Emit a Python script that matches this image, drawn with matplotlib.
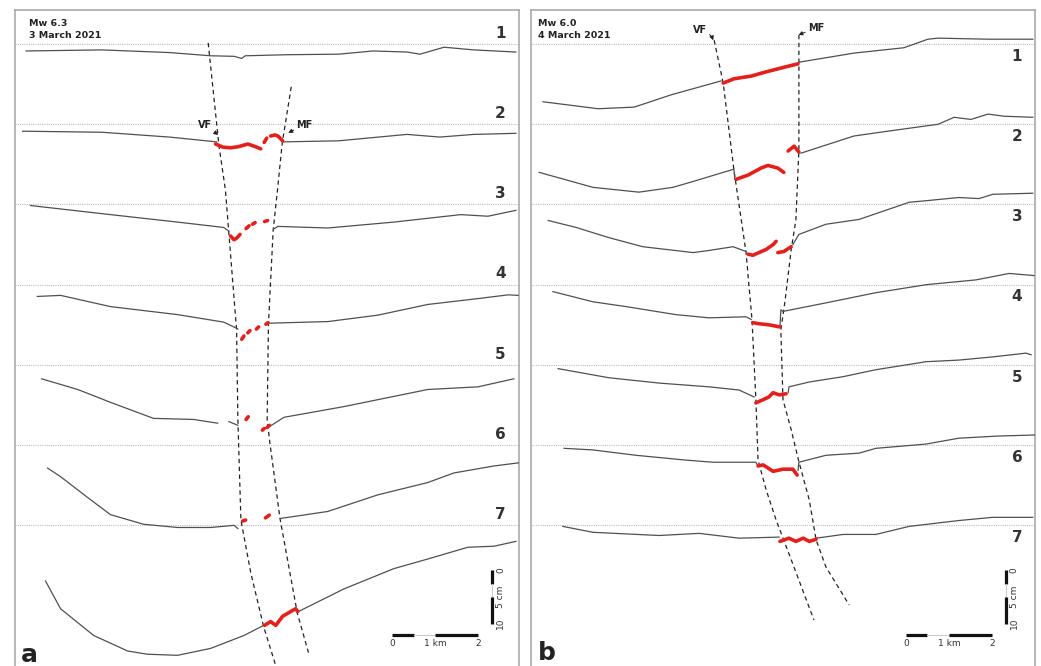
import numpy as np
import matplotlib.pyplot as plt

nan = np.nan

# profile offsets (cm) - reference lines every 15 cm
offsets = [0, -15, -30, -45, -60, -75, -90]
numbers = ["1", "2", "3", "4", "5", "6", "7"]

# ---- panel a : Mw 6.3, 3 March 2021 (x in km, y in cm relative to reference line)
a_gray_x = [
    [0.27, 2.03, 3.60, 4.56, 5.10, 5.28, 5.36, 6.35, 7.53, 8.33, 9.12, 9.42, 9.98, 10.67, 11.65],
    [0.19, 2.03, 3.60, 4.70, nan, 6.23, 7.53, 9.12, 9.88, 10.67, 11.65],
    [0.37, 2.23, 3.79, 4.86, 4.98, nan, 6.02, 6.12, 7.28, 8.81, 10.37, 11.0, 11.65],
    [0.53, 1.07, 2.23, 3.79, 4.86, 5.07, 5.19, nan, 5.91, 7.28, 8.44, 9.60, 10.77, 11.47, 11.70],
    [0.63, 1.47, 2.23, 3.23, 4.16, 4.72, nan, 4.98, 5.19, nan, 5.93, 6.26, 7.65, 9.60, 10.77, 11.60],
    [0.77, 1.07, 1.70, 2.23, 3.0, 3.79, 4.56, 5.10, 5.19, nan, 6.19, 7.28, 8.44, 9.60, 10.21, 11.14, 11.72],
    [0.72, 1.07, 1.84, 2.63, 3.09, 3.79, 4.56, 5.33, 5.79, nan, 6.60, 7.65, 8.81, 9.60, 10.53, 11.14, 11.65],
]
a_gray_y = [
    [-1.3, -1.1, -1.6, -2.2, -2.3, -2.7, -2.2, -2.0, -1.9, -1.3, -1.5, -1.9, -0.6, -1.1, -1.5],
    [-1.3, -1.5, -2.4, -3.3, nan, -3.3, -3.1, -1.9, -2.4, -1.9, -1.7],
    [-0.2, -1.9, -3.3, -4.3, -5.0, nan, -4.6, -4.1, -4.4, -3.3, -1.9, -2.2, -1.1],
    [-2.2, -2.0, -4.1, -5.6, -7.0, -7.8, -8.3, nan, -7.2, -6.9, -5.7, -3.7, -2.6, -1.9, -2.0],
    [-2.6, -4.6, -7.0, -10.0, -10.2, -10.9, nan, -10.6, -11.3, nan, -11.5, -9.8, -7.8, -4.6, -4.1, -2.6],
    [-4.3, -5.9, -9.8, -13.0, -14.8, -15.4, -15.4, -15.0, -15.6, nan, -13.7, -12.4, -9.3, -7.0, -5.2, -3.9, -3.3],
    [-10.4, -15.6, -20.6, -23.5, -24.1, -24.3, -23.0, -20.6, -18.7, nan, -16.1, -11.9, -8.1, -6.3, -4.1, -3.9, -3.0],
]
a_red_x = [
    [],
    [4.67, 4.85, 5.02, 5.20, 5.42, 5.60, 5.72, nan, 5.80, 5.86, nan, 5.95, 6.05, 6.12, 6.23],
    [5.02, 5.10, 5.16, 5.24, nan, 5.38, 5.45, nan, 5.53, 5.59, nan, 5.81, 5.88],
    [5.28, 5.33, nan, 5.42, 5.47, nan, 5.62, 5.67, nan, 5.84, 5.89],
    [5.38, 5.43, nan, 5.76, 5.80, nan, 5.87, 5.92],
    [5.30, 5.37, nan, 5.83, 5.92],
    [5.81, 5.95, 6.07, 6.23, 6.42, 6.53, 6.58],
]
a_red_y = [
    [],
    [-3.7, -4.3, -4.4, -4.2, -3.7, -4.2, -4.6, nan, -3.4, -2.6, nan, -2.2, -2.0, -2.2, -3.1],
    [-5.9, -6.6, -6.3, -5.6, nan, -4.5, -4.0, nan, -3.7, -3.4, nan, -3.2, -3.0],
    [-10.2, -9.6, nan, -9.0, -8.6, nan, -8.3, -7.9, nan, -7.4, -7.1],
    [-10.2, -9.7, nan, -12.2, -11.9, nan, -11.7, -11.3],
    [-14.2, -14.0, nan, -13.6, -13.1],
    [-18.7, -18.0, -18.7, -17.0, -16.1, -15.6, -16.1],
]
a_vf_x = [4.50, 4.75, 4.90, 5.16, 5.19, 5.26, 5.49, 5.79, 6.10]
a_vf_y = [0.2, -19.0, -27.3, -53.5, -70.3, -89.0, -98.9, -109.0, -117.0]
a_mf_x = [6.43, 6.22, 6.11, 6.01, 5.90, 5.87, 5.94, 6.17, 6.57, 6.83]
a_mf_y = [-8.0, -18.5, -27.3, -34.8, -52.3, -70.3, -75.0, -88.8, -106.4, -113.8]

# ---- panel b : Mw 6.0, 4 March 2021
b_gray_x = [
    [0.28, 1.56, 2.40, 3.26, 4.42, nan, 6.23, 7.51, 8.67, 9.23, 9.47, 10.63, 11.67],
    [0.19, 1.44, 2.51, 3.30, 3.77, 4.72, 4.74, nan, 6.28, 7.51, 8.30, 9.47, 9.84, 10.23, 10.63, 11.0, 11.67],
    [0.40, 1.05, 1.81, 2.60, 3.77, 4.14, 4.70, 5.0, nan, 6.09, 6.23, 6.86, 7.63, 8.79, 9.19, 9.95, 10.42, 10.74, 11.67],
    [0.51, 1.44, 2.21, 3.37, 4.14, 5.0, 5.12, nan, 5.79, 5.81, 5.86, 6.86, 8.02, 9.19, 10.35, 11.12, 11.70],
    [0.63, 1.81, 2.98, 4.14, 4.84, 5.19, nan, 5.98, 6.0, 6.47, 7.26, 8.02, 9.19, 9.95, 10.74, 11.51, 11.63],
    [0.77, 1.44, 2.44, 3.60, 4.23, 5.23, 5.28, nan, 6.21, 6.23, 6.86, 7.63, 8.02, 9.19, 9.95, 10.88, 11.74],
    [0.74, 1.44, 2.98, 3.91, 4.84, 5.77, nan, 6.63, 7.26, 8.02, 8.79, 9.95, 10.74, 11.67],
]
b_gray_y = [
    [-10.8, -12.1, -11.8, -9.5, -6.9, nan, -3.4, -1.7, -0.7, 0.9, 1.1, 0.9, 0.9],
    [-9.0, -11.8, -12.7, -11.8, -10.7, -8.4, -10.3, nan, -5.4, -2.2, -1.3, 0.0, 1.3, 0.9, 1.9, 1.5, 1.3],
    [-3.0, -4.3, -6.2, -7.9, -9.0, -8.6, -7.9, -8.8, nan, -7.5, -5.6, -3.7, -2.8, 0.4, 0.7, 1.3, 1.1, 1.9, 2.1],
    [-1.3, -3.2, -4.1, -5.6, -6.2, -6.0, -6.5, nan, -7.9, -4.7, -5.0, -3.4, -1.5, 0.0, 0.9, 2.1, 1.7],
    [-0.7, -2.4, -3.4, -4.1, -4.7, -6.0, nan, -5.2, -4.1, -3.2, -2.2, -0.9, 0.6, 0.9, 1.5, 2.2, 1.9],
    [-0.6, -0.9, -1.9, -2.8, -3.2, -3.2, -3.9, nan, -4.7, -3.2, -1.9, -1.5, -0.6, 0.2, 1.3, 1.7, 1.9],
    [-0.2, -1.3, -1.9, -1.5, -2.4, -2.2, nan, -2.4, -1.7, -1.7, -0.2, 0.9, 1.5, 1.5],
]
b_red_x = [
    [4.47, 4.72, 5.12, 5.47, 5.81, 6.21],
    [4.77, 5.05, 5.35, 5.51, 5.74, 5.88, nan, 5.98, 6.12, 6.23],
    [5.05, 5.16, 5.30, 5.47, 5.63, 5.70, nan, 5.74, 5.88, 6.05],
    [5.16, 5.30, 5.53, 5.79],
    [5.23, 5.40, 5.53, 5.63, 5.77, 5.93],
    [5.28, 5.40, 5.63, 5.86, 6.09, 6.19],
    [5.79, 6.0, 6.16, 6.33, 6.47, 6.63],
]
b_red_y = [
    [-7.3, -6.5, -6.0, -5.2, -4.5, -3.7],
    [-10.3, -9.5, -8.2, -7.7, -8.2, -9.0, nan, -5.0, -4.1, -5.2],
    [-9.3, -9.5, -9.0, -8.4, -7.5, -6.9, nan, -9.0, -8.8, -7.9],
    [-7.1, -7.3, -7.5, -7.9],
    [-7.1, -6.5, -6.0, -5.2, -5.6, -5.4],
    [-3.9, -3.7, -4.9, -4.5, -4.5, -5.6],
    [-3.0, -2.4, -3.0, -2.4, -3.0, -2.6],
]
b_vf_x = [4.26, 4.47, 4.72, 5.0, 5.14, 5.23, 5.28, 5.47, 5.70, 6.05, 6.58]
b_vf_y = [0.7, -7.3, -23.6, -38.9, -51.6, -66.5, -77.8, -83.4, -89.0, -96.4, -107.7]
b_mf_x = [6.23, 6.23, 6.16, 6.05, 5.91, 5.81, 5.86, 6.05, 6.23, 6.47, 6.63, 6.86, 7.40]
b_mf_y = [1.7, -19.8, -32.9, -38.5, -47.9, -53.5, -66.5, -72.1, -78.1, -85.2, -92.7, -97.8, -104.9]

GRAY = "#505050"
RED = "#e3211c"

W, H = 1041, 666
fig = plt.figure(figsize=(W / 100, H / 100), dpi=100)


def panel(x0, w):
    ax = fig.add_axes([x0 / W, 0, w / W, 656 / H])
    ax.set_xlim(0, 504 / 43)
    ax.set_ylim(-116.3, 6.36)
    ax.set_xticks([])
    ax.set_yticks([])
    for s in ["left", "top", "right"]:
        ax.spines[s].set_color("#a3a3a3")
        ax.spines[s].set_linewidth(1.1)
    ax.spines["bottom"].set_visible(False)
    return ax


def draw(ax, gx, gy, rx, ry, vfx, vfy, mfx, mfy, num_above):
    for i, off in enumerate(offsets):
        ax.axhline(off, color="#bcbcbc", lw=0.8, ls=(0, (1, 1)), zorder=1)
        if num_above:
            ax.text(11.29, off + 0.6, numbers[i], ha="center", va="bottom",
                    fontsize=11, fontweight="bold", color="#333333")
        else:
            ax.text(11.30, off - 0.9, numbers[i], ha="center", va="top",
                    fontsize=11, fontweight="bold", color="#333333")
        ax.plot(gx[i], np.array(gy[i]) + off, color=GRAY, lw=0.9, zorder=3)
        if len(rx[i]):
            ax.plot(rx[i], np.array(ry[i]) + off, color=RED, lw=2.6,
                    solid_capstyle="round", zorder=4)
    ax.plot(vfx, vfy, color="#222222", lw=0.9, ls=(0, (3.5, 2.8)), zorder=2)
    ax.plot(mfx, mfy, color="#222222", lw=0.9, ls=(0, (3.5, 2.8)), zorder=2)


def scale_bars(ax, x0, xv):
    yb = -110.5
    ax.plot([x0, x0 + 0.5], [yb, yb], color="#111111", lw=2.3, solid_capstyle="butt")
    ax.plot([x0 + 0.5, x0 + 1.0], [yb, yb], color="#cccccc", lw=0.8)
    ax.plot([x0 + 1.0, x0 + 2.0], [yb, yb], color="#111111", lw=2.3, solid_capstyle="butt")
    for d, lab in [(0, "0"), (1, "1 km"), (2, "2")]:
        ax.text(x0 + d, yb - 1.6, lab, ha="center", va="center", fontsize=6.5, color="#333333")
    y0 = -98.4
    ax.plot([xv, xv], [y0, y0 - 2.5], color="#111111", lw=2.3, solid_capstyle="butt")
    ax.plot([xv, xv], [y0 - 2.5, y0 - 5], color="#cccccc", lw=0.8)
    ax.plot([xv, xv], [y0 - 5, y0 - 10], color="#111111", lw=2.3, solid_capstyle="butt")
    for d, lab in [(0, "0"), (5, "5 cm"), (10, "10")]:
        ax.text(xv + 0.19, y0 - d, lab, ha="center", va="center", rotation=90,
                fontsize=6.5, color="#333333")


ax_a = panel(14.5, 504.5)
draw(ax_a, a_gray_x, a_gray_y, a_red_x, a_red_y, a_vf_x, a_vf_y, a_mf_x, a_mf_y, True)
scale_bars(ax_a, 8.78, 11.10)
ax_a.text(0.33, 3.4, "Mw 6.3", fontsize=6.8, fontweight="bold", color="#222222")
ax_a.text(0.33, 1.1, "3 March 2021", fontsize=6.8, fontweight="bold", color="#222222")
ax_a.annotate("VF", xy=(4.73, -17.0), xytext=(4.58, -15.1), ha="right", va="center",
              fontsize=7, fontweight="bold", color="#222222",
              arrowprops=dict(arrowstyle="-|>", color="#222222", lw=0.7,
                              mutation_scale=6, shrinkA=0, shrinkB=0))
ax_a.annotate("MF", xy=(6.36, -16.6), xytext=(6.55, -15.1), ha="left", va="center",
              fontsize=7, fontweight="bold", color="#222222",
              arrowprops=dict(arrowstyle="-|>", color="#222222", lw=0.7,
                              mutation_scale=6, shrinkA=0, shrinkB=0))
ax_a.text(0.35, -115.5, "a", ha="center", va="baseline", fontsize=18,
          fontweight="bold", color="#222222")

ax_b = panel(531, 504)
draw(ax_b, b_gray_x, b_gray_y, b_red_x, b_red_y, b_vf_x, b_vf_y, b_mf_x, b_mf_y, False)
scale_bars(ax_b, 8.72, 11.05)
ax_b.text(0.16, 3.4, "Mw 6.0", fontsize=6.8, fontweight="bold", color="#222222")
ax_b.text(0.16, 1.1, "4 March 2021", fontsize=6.8, fontweight="bold", color="#222222")
ax_b.annotate("VF", xy=(4.24, 0.7), xytext=(4.09, 2.6), ha="right", va="center",
              fontsize=7, fontweight="bold", color="#222222",
              arrowprops=dict(arrowstyle="-|>", color="#222222", lw=0.7,
                              mutation_scale=6, shrinkA=0, shrinkB=0,
                              connectionstyle="arc3,rad=-0.3"))
ax_b.annotate("MF", xy=(6.22, 1.7), xytext=(6.44, 3.0), ha="left", va="center",
              fontsize=7, fontweight="bold", color="#222222",
              arrowprops=dict(arrowstyle="-|>", color="#222222", lw=0.7,
                              mutation_scale=6, shrinkA=0, shrinkB=0))
ax_b.text(0.37, -115.1, "b", ha="center", va="baseline", fontsize=18,
          fontweight="bold", color="#222222")

fig.savefig("out.png", dpi=100)
